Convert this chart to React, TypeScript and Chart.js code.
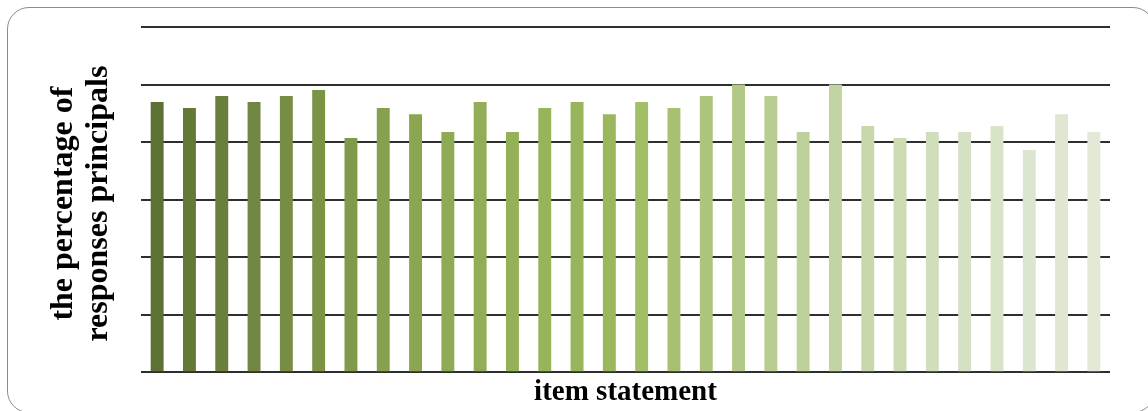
import React, { useEffect, useRef } from "react";
import { Chart, registerables } from "chart.js";

Chart.register(...registerables);

const categories = [
  "1", "2", "3", "4", "5", "6", "7", "8", "9", "10",
  "11", "12", "13", "14", "15", "16", "17", "18", "19", "20",
  "21", "22", "23", "24", "25", "26", "27", "28", "29", "30",
];

const percentages = [
  93.9, 91.8, 96.0, 93.9, 96.0, 98.1, 81.4, 91.8, 89.7, 83.5,
  93.9, 83.5, 91.8, 93.9, 89.7, 93.9, 91.8, 96.0, 100.0, 96.0,
  83.5, 100.0, 85.6, 81.4, 83.5, 83.5, 85.6, 77.2, 89.7, 83.5,
];

const barColors = [
  "#5e7134", "#647838", "#6a7f3c", "#718640", "#778d43", "#7c9346",
  "#81994a", "#86a04d", "#8ba550", "#8faa54", "#93ad56", "#95b158",
  "#97b45a", "#98b55b", "#9bb75d", "#a2be66", "#a7c170", "#adc47c",
  "#b2c886", "#b9cd92", "#bed19b", "#c3d4a4", "#c8d8ad", "#cddbb5",
  "#d1debc", "#d5e1c2", "#d9e3c8", "#dce5cd", "#dfe7d2", "#e2e9d6",
];

const yTitle = ["the percentage of ", "responses principals "];
const xTitle = "item statement";

const yMin = 0;
const yMax = 120;
const yStep = 20;

export default function App() {
  const canvasRef = useRef<HTMLCanvasElement | null>(null);

  useEffect(() => {
    const canvas = canvasRef.current;
    if (!canvas) return;
    const chart = new Chart(canvas, {
      type: "bar",
      data: {
        labels: categories,
        datasets: [
          {
            data: percentages,
            backgroundColor: barColors,
            borderWidth: 0,
            barPercentage: 0.4,
            categoryPercentage: 1,
          },
        ],
      },
      options: {
        animation: false,
        responsive: false,
        devicePixelRatio: 1,
        layout: { padding: { left: 42, right: 38, top: 27, bottom: 1 } },
        plugins: {
          legend: { display: false },
          tooltip: { enabled: false },
        },
        scales: {
          x: {
            grid: { display: false, drawTicks: false },
            border: { display: false },
            ticks: { display: false },
            title: {
              display: true,
              text: xTitle,
              color: "#000000",
              font: { family: "'Liberation Serif', 'Times New Roman', serif", size: 29, weight: "bold", lineHeight: 1.2 },
              padding: { top: 3, bottom: 0 },
            },
          },
          y: {
            min: yMin,
            max: yMax,
            ticks: { display: false, stepSize: yStep },
            grid: { color: "#2e2e2e", lineWidth: 2, drawTicks: false },
            border: { display: false },
            title: {
              display: true,
              text: yTitle,
              color: "#000000",
              font: { family: "'Liberation Serif', 'Times New Roman', serif", size: 32, weight: "bold", lineHeight: 1.1 },
              padding: { top: 4, bottom: 24.6 },
            },
          },
        },
      },
    });
    return () => chart.destroy();
  }, []);

  return (
    <div
      style={{
        position: "fixed",
        left: 0,
        top: 0,
        width: 1148,
        height: 411,
        overflow: "hidden",
        background: "#ffffff",
      }}
    >
      <div
        style={{
          position: "absolute",
          left: 7,
          top: 7,
          width: 1148,
          height: 406,
          boxSizing: "border-box",
          border: "1.5px solid #8c8c8c",
          borderRadius: 22,
        }}
      />
      <canvas
        ref={canvasRef}
        width={1148}
        height={411}
        style={{ position: "absolute", left: 0, top: 0, width: 1148, height: 411 }}
      />
    </div>
  );
}
